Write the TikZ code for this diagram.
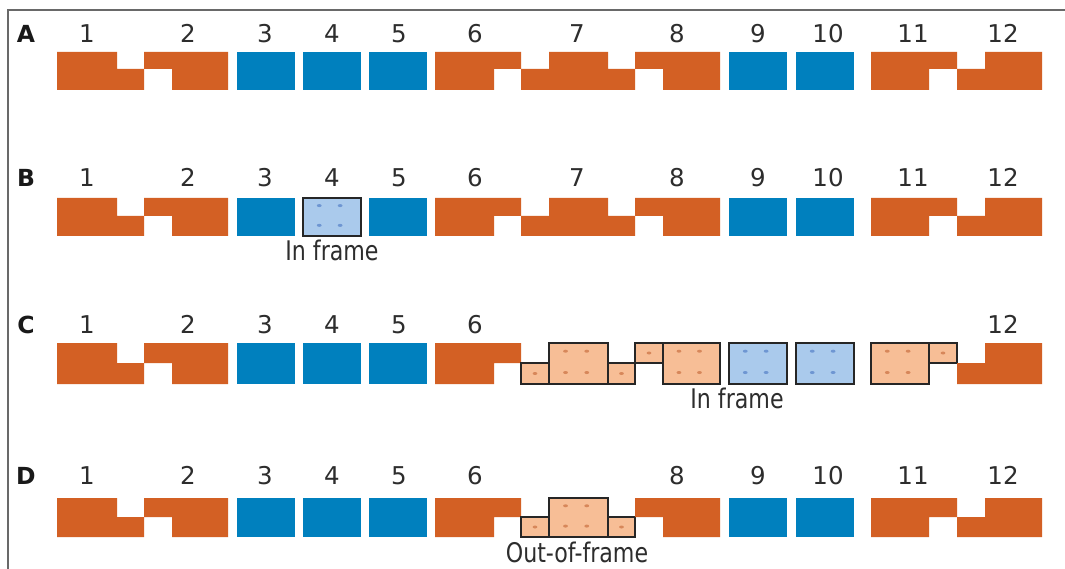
\documentclass[tikz,border=0pt]{standalone}
\usepackage{fontspec}
\setmainfont{DejaVu Sans}
\newfontfamily\condfont{DejaVu Sans}[FakeStretch=0.82]
\definecolor{orng}{RGB}{211,96,36}
\definecolor{blu}{RGB}{0,128,190}
\definecolor{lorng}{RGB}{247,190,150}
\definecolor{lblu}{RGB}{170,202,236}
\definecolor{morng}{RGB}{215,135,90}
\definecolor{mblu}{RGB}{110,150,210}
\definecolor{txt}{RGB}{45,45,45}
\definecolor{framegray}{RGB}{105,105,105}
\tikzset{
  dk/.style={fill=orng},
  bl/.style={fill=blu},
  lo/.style={fill=lorng,draw=black!85,line width=1.3pt},
  lb/.style={fill=lblu,draw=black!85,line width=1.3pt},
  num/.style={font=\fontsize{24.5}{26}\selectfont,text=txt,anchor=base,inner sep=0pt},
  rowlbl/.style={font=\bfseries\fontsize{23.5}{26}\selectfont,text=black!90,anchor=base,inner sep=0pt},
  note/.style={font=\condfont\fontsize{27}{30}\selectfont,text=txt,anchor=base,inner sep=0pt},
  framestyle/.style={draw=framegray,line width=1.6pt},
}
% dark orange pieces (use \T, \M, \B)
\newcommand\pcOne{\fill[dk] (57,\T)--(117,\T)--(117,\M)--(144,\M)--(144,\B)--(57,\B)--cycle;}
\newcommand\pcTwo{\fill[dk] (144,\T)--(228,\T)--(228,\B)--(172,\B)--(172,\M)--(144,\M)--cycle;}
\newcommand\pcSix{\fill[dk] (435,\T)--(521,\T)--(521,\M)--(494,\M)--(494,\B)--(435,\B)--cycle;}
\newcommand\pcSeven{\fill[dk] (521,\M)--(549,\M)--(549,\T)--(608,\T)--(608,\M)--(635,\M)--(635,\B)--(521,\B)--cycle;}
\newcommand\pcEight{\fill[dk] (635,\T)--(720,\T)--(720,\B)--(663,\B)--(663,\M)--(635,\M)--cycle;}
\newcommand\pcEleven{\fill[dk] (871,\T)--(957,\T)--(957,\M)--(929,\M)--(929,\B)--(871,\B)--cycle;}
\newcommand\pcTwelve{\fill[dk] (957,\M)--(985,\M)--(985,\T)--(1042,\T)--(1042,\B)--(957,\B)--cycle;}
\newcommand\bluebox[2]{\fill[bl] (#1,\T) rectangle (#2,\B);}
\newcommand\lbig[4]{%
  \draw[#1] (#3,\T) rectangle (#4,\B);
  \foreach \fx in {0.28,0.64}{\foreach \fy in {0.2,0.72}{
    \fill[#2] ({#3+\fx*(#4-#3)},{\T+\fy*(\B-\T)}) ellipse (2.4 and 1.5);}}}
\newcommand\lsmall[6]{%
  \draw[#1] (#3,#4) rectangle (#5,#6);
  \fill[#2] ({(#3+#5)/2},{(#4+#6)/2}) ellipse (2.4 and 1.5);}
\begin{document}
\begin{tikzpicture}[x=1pt,y=-1pt]
\useasboundingbox (0,0) rectangle (1065,569);
\fill[white] (0,0) rectangle (1065,569);
\draw[framestyle] (8,569) -- (8,10) -- (1065,10);

% ---------- Row A ----------
\def\T{52}\def\M{69}\def\B{90}
\pcOne \pcTwo \bluebox{237}{295}\bluebox{303}{361}\bluebox{369}{427}
\pcSix \pcSeven \pcEight \bluebox{729}{787}\bluebox{796}{854}
\pcEleven \pcTwelve
\node[rowlbl] (rA) at (26,43) {A};
\foreach \x/\t in {87/1,188/2,265/3,332/4,399/5,475/6,577/7,677/8,758/9,828/10,913/11,1003/12}
  \node[num] (A\t) at (\x,43) {\t};

% ---------- Row B ----------
\def\T{198}\def\M{216}\def\B{236}
\pcOne \pcTwo \bluebox{237}{295}\bluebox{369}{427}
\lbig{lb}{mblu}{303}{361}
\pcSix \pcSeven \pcEight \bluebox{729}{787}\bluebox{796}{854}
\pcEleven \pcTwelve
\node[rowlbl] (rB) at (26,187) {B};
\foreach \x/\t in {87/1,188/2,265/3,332/4,399/5,475/6,577/7,677/8,758/9,828/10,913/11,1003/12}
  \node[num] (B\t) at (\x,187) {\t};
\node[note] (inB) at (332,261) {In frame};

% ---------- Row C ----------
\def\T{343}\def\M{363}\def\B{384}
\pcOne \pcTwo \bluebox{237}{295}\bluebox{303}{361}\bluebox{369}{427}
\pcSix
\lsmall{lo}{morng}{521}{\M}{549}{\B}
\lbig{lo}{morng}{549}{608}
\lsmall{lo}{morng}{608}{\M}{635}{\B}
\lsmall{lo}{morng}{635}{\T}{663}{\M}
\lbig{lo}{morng}{663}{720}
\lbig{lb}{mblu}{729}{787}
\lbig{lb}{mblu}{796}{854}
\lbig{lo}{morng}{871}{929}
\lsmall{lo}{morng}{929}{\T}{957}{\M}
\pcTwelve
\node[rowlbl] (rC) at (26,333) {C};
\foreach \x/\t in {87/1,188/2,265/3,332/4,399/5,475/6,1003/12}
  \node[num] (C\t) at (\x,333) {\t};
\node[note] (inC) at (737,408) {In frame};

% ---------- Row D ----------
\def\T{498}\def\M{517}\def\B{537}
\pcOne \pcTwo \bluebox{237}{295}\bluebox{303}{361}\bluebox{369}{427}
\pcSix
\lsmall{lo}{morng}{521}{\M}{549}{\B}
\lbig{lo}{morng}{549}{608}
\lsmall{lo}{morng}{608}{\M}{635}{\B}
\pcEight \bluebox{729}{787}\bluebox{796}{854}
\pcEleven \pcTwelve
\node[rowlbl] (rD) at (26,484) {D};
\foreach \x/\t in {87/1,188/2,265/3,332/4,399/5,475/6,677/8,758/9,828/10,913/11,1003/12}
  \node[num] (D\t) at (\x,484) {\t};
\node[note] (outD) at (577,562) {Out-of-frame};
\end{tikzpicture}
\end{document}
